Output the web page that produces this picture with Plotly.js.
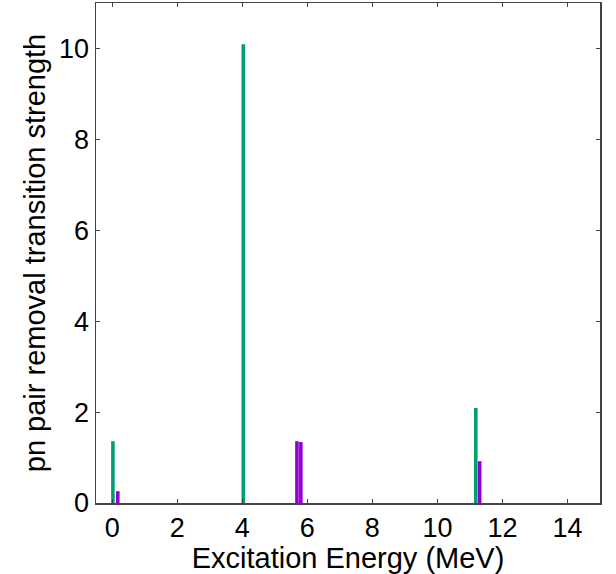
<!DOCTYPE html>
<html>
<head>
<meta charset="utf-8">
<script src="https://cdn.plot.ly/plotly-3.0.1.min.js"></script>
<style>html,body{margin:0;padding:0;background:#fff;}#chart{width:616px;height:574px;}</style>
</head>
<body>
<div id="chart"></div>
<script>
// Green series (excitation energy in MeV, strength)
const greenEnergy = [0.02, 4.03, 11.18];
const greenStrength = [1.36, 10.09, 2.09];
// Purple series
const purpleEnergy = [0.17, 5.68, 5.80, 11.30];
const purpleStrength = [0.26, 1.36, 1.34, 0.92];

const xTicks = [0, 2, 4, 6, 8, 10, 12, 14];
const yTicks = [0, 2, 4, 6, 8, 10];

const font = {family: 'Liberation Sans, Arial, sans-serif', color: '#000'};

const data = [
  {type: 'bar', x: greenEnergy, y: greenStrength, width: 0.11,
   marker: {color: '#009e73', line: {width: 0}}, showlegend: false},
  {type: 'bar', x: purpleEnergy, y: purpleStrength, width: 0.11,
   marker: {color: '#9400d3', line: {width: 0}}, showlegend: false}
];

const layout = {
  width: 616, height: 574,
  margin: {l: 96, r: 16, t: 3, b: 71},
  paper_bgcolor: '#fff', plot_bgcolor: '#fff',
  barmode: 'overlay',
  font: font,
  xaxis: {
    range: [-0.5, 15], tickvals: xTicks, ticktext: xTicks.map(String),
    ticks: 'inside', ticklen: 4, tickcolor: '#444', tickwidth: 1,
    showline: true, linecolor: '#444', linewidth: 1.5, mirror: 'ticks',
    showgrid: false, zeroline: false,
    tickfont: {family: font.family, size: 27, color: '#000'},
    title: {text: 'Excitation Energy (MeV)', font: {family: font.family, size: 29, color: '#000'}, standoff: 3}
  },
  yaxis: {
    range: [0, 11], tickvals: yTicks, ticktext: yTicks.map(String),
    ticks: 'inside', ticklen: 4, tickcolor: '#444', tickwidth: 1,
    showline: true, linecolor: '#444', linewidth: 1.5, mirror: 'ticks',
    showgrid: false, zeroline: false,
    tickfont: {family: font.family, size: 27, color: '#000'},
    title: {text: 'pn pair removal transition strength', font: {family: font.family, size: 29, color: '#000'}, standoff: 5}
  }
};

Plotly.newPlot('chart', data, layout, {displayModeBar: false, staticPlot: true});
</script>
</body>
</html>
